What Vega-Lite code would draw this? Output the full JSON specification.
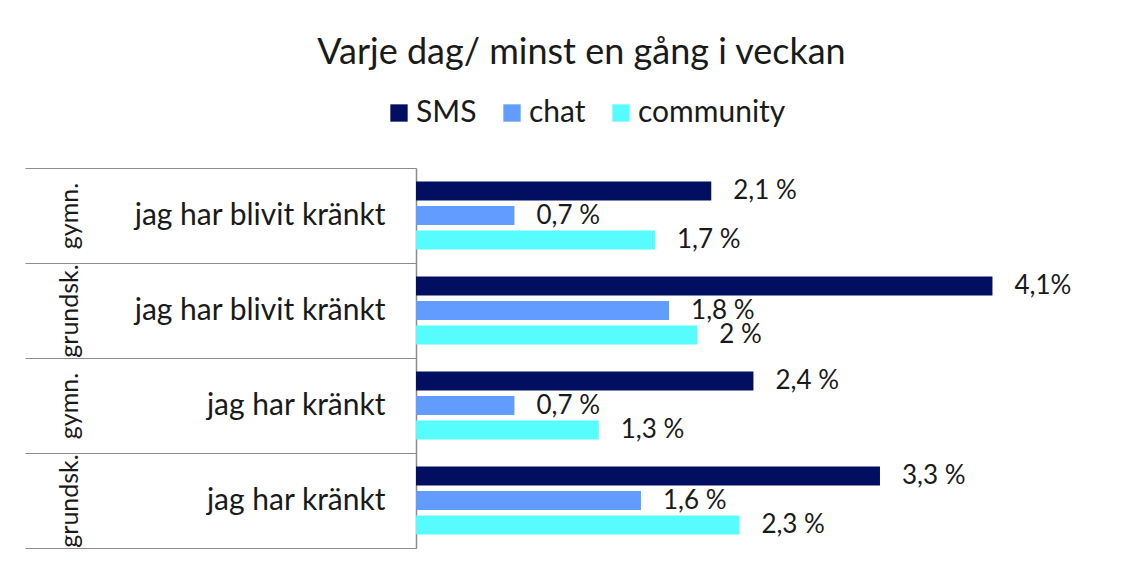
{
  "$schema": "https://vega.github.io/schema/vega-lite/v6.json",
  "width": 703,
  "height": 380,
  "autosize": {"type": "none"},
  "padding": {"left": 416, "top": 168, "right": 24, "bottom": 25},
  "background": "white",
  "config": {"view": {"stroke": null}, "font": "Lato"},
  "title": {"text": "Varje dag/ minst en gång i veckan", "fontSize": 36, "fontWeight": "normal", "color": "#1a1a1a", "offset": 26, "anchor": "middle", "dx": -186, "font": "Lato"},
  "data": {"values": [
    {"rad": "gymn.|jag har blivit kränkt", "serie": "SMS", "andel": 2.1, "etikett": "2,1 %"},
    {"rad": "gymn.|jag har blivit kränkt", "serie": "chat", "andel": 0.7, "etikett": "0,7 %"},
    {"rad": "gymn.|jag har blivit kränkt", "serie": "community", "andel": 1.7, "etikett": "1,7 %"},
    {"rad": "grundsk.|jag har blivit kränkt", "serie": "SMS", "andel": 4.1, "etikett": "4,1%"},
    {"rad": "grundsk.|jag har blivit kränkt", "serie": "chat", "andel": 1.8, "etikett": "1,8 %"},
    {"rad": "grundsk.|jag har blivit kränkt", "serie": "community", "andel": 2.0, "etikett": "2 %"},
    {"rad": "gymn.|jag har kränkt", "serie": "SMS", "andel": 2.4, "etikett": "2,4 %"},
    {"rad": "gymn.|jag har kränkt", "serie": "chat", "andel": 0.7, "etikett": "0,7 %"},
    {"rad": "gymn.|jag har kränkt", "serie": "community", "andel": 1.3, "etikett": "1,3 %"},
    {"rad": "grundsk.|jag har kränkt", "serie": "SMS", "andel": 3.3, "etikett": "3,3 %"},
    {"rad": "grundsk.|jag har kränkt", "serie": "chat", "andel": 1.6, "etikett": "1,6 %"},
    {"rad": "grundsk.|jag har kränkt", "serie": "community", "andel": 2.3, "etikett": "2,3 %"}
  ]},
  "layer": [
    {
      "mark": {"type": "bar"},
      "encoding": {
        "y": {"field": "rad", "type": "nominal", "sort": null,
          "scale": {"paddingInner": 0, "paddingOuter": 0},
          "axis": {"orient": "left", "title": null, "domain": true, "domainColor": "#8c8c8c", "domainWidth": 1.5, "ticks": false, "grid": false,
            "labelPadding": 31, "labelExpr": "isString(datum.value) ? split(datum.value,'|')[1] : ''", "labelFontSize": 30, "labelColor": "#1a1a1a", "labelFont": "Lato", "labelLimit": 400}},
        "yOffset": {"field": "serie", "type": "nominal", "sort": ["SMS", "chat", "community"], "scale": {"paddingInner": 0.22, "paddingOuter": 0.55}},
        "x": {"field": "andel", "type": "quantitative", "scale": {"domain": [0, 5]}, "axis": null},
        "color": {"field": "serie", "type": "nominal", "sort": ["SMS", "chat", "community"],
          "scale": {"domain": ["SMS", "chat", "community"], "range": ["#020F60", "#639CFF", "#57FCFF"]},
          "legend": {"orient": "none", "legendX": -32, "legendY": -70, "direction": "horizontal", "title": null, "symbolType": "square", "symbolSize": 300,
            "labelFontSize": 30, "labelFont": "Lato", "labelColor": "#1a1a1a", "columnPadding": 20, "labelOffset": 2, "symbolStrokeWidth": 0}}
      }
    },
    {
      "mark": {"type": "text", "align": "left", "baseline": "middle", "dx": 22, "fontSize": 26, "color": "#1a1a1a", "font": "Lato"},
      "encoding": {
        "y": {"field": "rad", "type": "nominal", "sort": null,
          "scale": {"paddingInner": 0, "paddingOuter": 0},
          "axis": {"orient": "left", "title": null, "domain": false, "ticks": true, "tickBand": "extent", "tickSize": 391, "tickColor": "#8c8c8c", "tickWidth": 1.2, "grid": false,
            "labelAngle": -90, "labelAlign": "center", "labelBaseline": "bottom", "labelPadding": -57, "labelExpr": "isString(datum.value) ? split(datum.value,'|')[0] : ''", "labelFontSize": 25, "labelColor": "#1a1a1a", "labelFont": "Lato"}},
        "yOffset": {"field": "serie", "type": "nominal", "sort": ["SMS", "chat", "community"], "scale": {"paddingInner": 0.22, "paddingOuter": 0.55}},
        "x": {"field": "andel", "type": "quantitative", "scale": {"domain": [0, 5]}, "axis": null},
        "text": {"field": "etikett"}
      }
    }
  ],
  "resolve": {"scale": {"y": "independent"}, "axis": {"y": "independent"}}
}
